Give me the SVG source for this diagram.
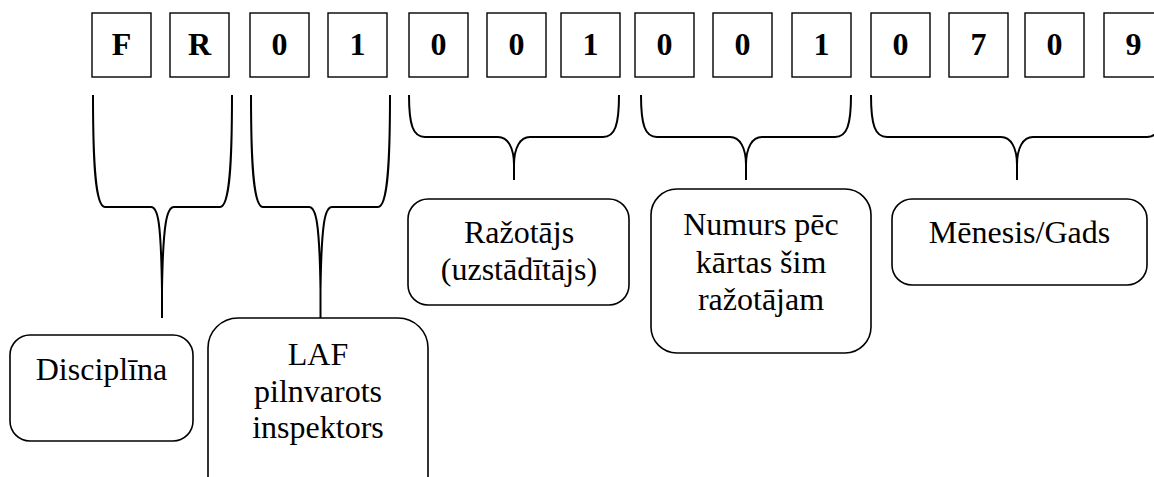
<svg xmlns="http://www.w3.org/2000/svg" width="1154" height="477" viewBox="0 0 1154 477">
<style>
.cell{fill:#fff;stroke:#000;stroke-width:1.4}
.ch{font-family:'Liberation Serif','Times New Roman',serif;font-weight:bold;font-size:32px;text-anchor:middle;fill:#000}
.box{fill:#fff;stroke:#000;stroke-width:1.6}
.lbl{font-family:'Liberation Serif','Times New Roman',serif;font-size:32px;text-anchor:middle;fill:#000}
.brace{fill:none;stroke:#000;stroke-width:2}
</style>
<rect width="1154" height="477" fill="#fff"/>
<g id="code">
<g id="c1"><rect class="cell" x="92" y="13" width="59" height="64"/><text class="ch" x="121.5" y="55">F</text></g>
<g id="c2"><rect class="cell" x="170" y="13" width="59" height="64"/><text class="ch" x="199.5" y="55">R</text></g>
<g id="c3"><rect class="cell" x="250" y="13" width="59" height="64"/><text class="ch" x="279.5" y="55">0</text></g>
<g id="c4"><rect class="cell" x="328" y="13" width="59" height="64"/><text class="ch" x="357.5" y="55">1</text></g>
<g id="c5"><rect class="cell" x="409" y="13" width="59" height="64"/><text class="ch" x="438.5" y="55">0</text></g>
<g id="c6"><rect class="cell" x="487" y="13" width="59" height="64"/><text class="ch" x="516.5" y="55">0</text></g>
<g id="c7"><rect class="cell" x="561" y="13" width="59" height="64"/><text class="ch" x="590.5" y="55">1</text></g>
<g id="c8"><rect class="cell" x="635" y="13" width="59" height="64"/><text class="ch" x="664.5" y="55">0</text></g>
<g id="c9"><rect class="cell" x="713" y="13" width="59" height="64"/><text class="ch" x="742.5" y="55">0</text></g>
<g id="c10"><rect class="cell" x="792" y="13" width="59" height="64"/><text class="ch" x="821.5" y="55">1</text></g>
<g id="c11"><rect class="cell" x="871" y="13" width="59" height="64"/><text class="ch" x="900.5" y="55">0</text></g>
<g id="c12"><rect class="cell" x="949" y="13" width="59" height="64"/><text class="ch" x="978.5" y="55">7</text></g>
<g id="c13"><rect class="cell" x="1025" y="13" width="59" height="64"/><text class="ch" x="1054.5" y="55">0</text></g>
<g id="c14"><rect class="cell" x="1104" y="13" width="59" height="64"/><text class="ch" x="1133.5" y="55">9</text></g>
</g>
<g id="connectors">
<path class="brace" d="M93,95 C93,160 95,207 105,207 L151,207 C158,207 161,222 162,290 L162,318 M232,95 C232,160 230,207 220,207 L174,207 C167,207 163,222 162,290"/>
<path class="brace" d="M251,95 C251,160 253,207 263,207 L309,207 C316,207 319.5,222 320.5,290 L320.5,318 M390,95 C390,160 388,207 378,207 L332,207 C325,207 321.5,222 320.5,290"/>
<path class="brace" d="M409,95 C409,125 413,137 425,137 L498,137 C508,137 514,148 514,165 L514,180 M619,95 C619,125 615,137 603,137 L530,137 C520,137 514,148 514,165"/>
<path class="brace" d="M641,95 C641,125 645,137 657,137 L730,137 C740,137 746,148 746,165 L746,180 M851,95 C851,125 847,137 835,137 L762,137 C752,137 746,148 746,165"/>
<path class="brace" d="M871,95 C871,125 875,137 887,137 L1001,137 C1011,137 1017,148 1017,165 L1017,180 M1163,95 C1163,125 1159,137 1147,137 L1033,137 C1023,137 1017,148 1017,165"/>
</g>
<g id="n-disciplina"><rect class="box" x="10" y="335" width="183" height="106" rx="20"/><text class="lbl" x="101.5" y="380">Disciplīna</text></g>
<g id="n-laf"><rect class="box" x="208" y="318" width="220" height="190" rx="30"/><text class="lbl" x="318" y="365">LAF</text><text class="lbl" x="318" y="402">pilnvarots</text><text class="lbl" x="318" y="438">inspektors</text></g>
<g id="n-razotajs"><rect class="box" x="408" y="199" width="221" height="106" rx="20"/><text class="lbl" x="519" y="243">Ražotājs</text><text class="lbl" x="519" y="280">(uzstādītājs)</text></g>
<g id="n-numurs"><rect class="box" x="651" y="189" width="220" height="164" rx="26"/><text class="lbl" x="761" y="235">Numurs pēc</text><text class="lbl" x="761" y="273">kārtas šim</text><text class="lbl" x="761" y="310">ražotājam</text></g>
<g id="n-menesis"><rect class="box" x="892" y="199" width="255" height="86" rx="20"/><text class="lbl" x="1019.5" y="243">Mēnesis/Gads</text></g>
</svg>
